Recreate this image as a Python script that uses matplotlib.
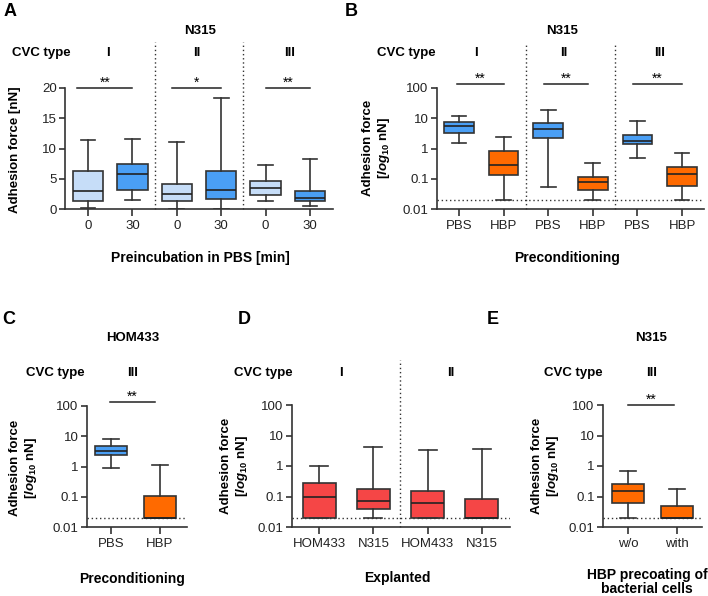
import matplotlib
matplotlib.use('Agg')
import matplotlib.pyplot as plt
from matplotlib.ticker import FixedLocator, NullLocator

plt.rcParams['font.family'] = ['Liberation Sans', 'DejaVu Sans']
plt.rcParams['mathtext.fontset'] = 'custom'
plt.rcParams['mathtext.rm'] = 'Liberation Sans:bold'
plt.rcParams['mathtext.it'] = 'Liberation Sans:bold:italic'
plt.rcParams['mathtext.bf'] = 'Liberation Sans:bold'

# colours
light_blue = '#c6ddf8'
blue = '#4a9ff5'
orange = '#ff6a00'
red = '#f54646'
dark = '#333333'

# panel A: N315, preincubation in PBS (linear nN)
a_labels = ['0', '30', '0', '30', '0', '30']
a_whislo = [0.1, 1.5, 0.0, 0.0, 1.3, 0.55]
a_q1 = [1.4, 3.2, 1.4, 1.6, 2.3, 1.4]
a_med = [2.9, 5.8, 2.4, 3.2, 3.4, 1.8]
a_q3 = [6.3, 7.4, 4.1, 6.3, 4.7, 2.9]
a_whishi = [11.4, 11.6, 11.0, 18.4, 7.3, 8.2]
a_colors = [light_blue, blue, light_blue, blue, light_blue, blue]

# panel B: N315, preconditioning (log nN)
b_labels = ['PBS', 'HBP', 'PBS', 'HBP', 'PBS', 'HBP']
b_whislo = [1.55, 0.02, 0.055, 0.02, 0.48, 0.02]
b_q1 = [3.3, 0.134, 2.25, 0.041, 1.38, 0.056]
b_med = [5.6, 0.29, 4.4, 0.076, 1.74, 0.148]
b_q3 = [7.3, 0.8, 6.9, 0.118, 2.9, 0.25]
b_whishi = [11.5, 2.4, 18.7, 0.32, 8.1, 0.70]
b_colors = [blue, orange, blue, orange, blue, orange]

# panel C: HOM433, preconditioning
c_labels = ['PBS', 'HBP']
c_whislo = [0.89, 0.02]
c_q1 = [2.4, 0.02]
c_med = [3.2, 0.02]
c_q3 = [4.8, 0.105]
c_whishi = [8.2, 1.1]
c_colors = [blue, orange]

# panel D: explanted
d_labels = ['HOM433', 'N315', 'HOM433', 'N315']
d_whislo = [0.02, 0.02, 0.02, 0.02]
d_q1 = [0.02, 0.039, 0.02, 0.02]
d_med = [0.097, 0.072, 0.063, 0.02]
d_q3 = [0.28, 0.17, 0.154, 0.08]
d_whishi = [1.0, 4.1, 3.3, 3.5]
d_colors = [red, red, red, red]

# panel E: HBP precoating of bacterial cells
e_labels = ['w/o', 'with']
e_whislo = [0.02, 0.02]
e_q1 = [0.060, 0.02]
e_med = [0.146, 0.02]
e_q3 = [0.26, 0.048]
e_whishi = [0.70, 0.18]
e_colors = [orange, orange]

W, H = 708, 596
fig = plt.figure(figsize=(W / 100, H / 100), dpi=100)


def px_axes(x0, y0, x1, y1):
    return fig.add_axes([x0 / W, 1 - y1 / H, (x1 - x0) / W, (y1 - y0) / H])


def ftext(x, y, s, **kw):
    kw.setdefault('ha', 'center')
    kw.setdefault('va', 'center')
    fig.text(x / W, 1 - y / H, s, **kw)


def boxes(ax, labels, lo, q1, med, q3, hi, colors, width, log):
    stats = [dict(med=m, q1=a, q3=b, whislo=l, whishi=h, fliers=[])
             for l, a, m, b, h in zip(lo, q1, med, q3, hi)]
    bp = ax.bxp(stats, positions=range(len(stats)), widths=width,
                patch_artist=True, showfliers=False, capwidths=0.33,
                boxprops=dict(lw=1.2, edgecolor=dark),
                medianprops=dict(color='#222222', lw=1.2),
                whiskerprops=dict(color=dark, lw=1.2),
                capprops=dict(color=dark, lw=1.2))
    for patch, c in zip(bp['boxes'], colors):
        patch.set_facecolor(c)
    for s in ['top', 'right']:
        ax.spines[s].set_visible(False)
    for s in ['left', 'bottom']:
        ax.spines[s].set_color(dark)
        ax.spines[s].set_linewidth(1.2)
    ax.set_xticks(range(len(labels)))
    ax.set_xticklabels(labels, fontsize=9.5, color='#222222')
    ax.tick_params(axis='x', length=5, width=1.2, color=dark, pad=3)
    ax.tick_params(axis='y', length=4, width=1.2, color=dark, pad=2,
                   labelsize=9.5, labelcolor='#222222')
    if log:
        ax.set_yscale('log')
        ax.set_ylim(0.01, 100)
        ax.yaxis.set_major_locator(FixedLocator([0.01, 0.1, 1, 10, 100]))
        ax.yaxis.set_minor_locator(NullLocator())
        ax.set_yticklabels(['0.01', '0.1', '1', '10', '100'])
        ax.axhline(0.02, ls=(0, (1, 2)), color=dark, lw=1)


def sig(ax, x0, x1, y, s):
    ax.plot([x0, x1], [y, y], color='#222222', lw=1.1, clip_on=False)
    ax.annotate(s, xy=((x0 + x1) / 2, y), xytext=(0, -1), textcoords='offset points',
                ha='center', va='bottom', fontsize=10, annotation_clip=False)


def vsep(ax, x, y0, y1):
    ax.plot([x, x], [y0, y1], ls=(0, (1, 2)), color=dark, lw=1, clip_on=False)


ylab_log = 'Adhesion force\n[$\\mathit{log}_{10}$ nN]'
lab_kw = dict(fontsize=9.5, fontweight='bold')
cvc_kw = dict(fontsize=9.5, fontweight='bold')
title_kw = dict(fontsize=9.5, fontweight='bold')
letter_kw = dict(fontsize=13, fontweight='bold')

# ---- A
axA = px_axes(65, 88, 333, 209)
boxes(axA, a_labels, a_whislo, a_q1, a_med, a_q3, a_whishi, a_colors, 0.68, False)
axA.set_xlim(-0.52, 5.52)
axA.set_ylim(0, 20)
axA.set_yticks([0, 5, 10, 15, 20])
vsep(axA, 1.5, 0, 27.6)
vsep(axA, 3.5, 0, 27.6)
sig(axA, -0.25, 1.0, 20, '**')
sig(axA, 1.9, 3.0, 20, '*')
sig(axA, 4.0, 5.0, 20, '**')
ftext(15, 150, 'Adhesion force [nN]', rotation=90, **lab_kw)
ftext(200, 258, 'Preincubation in PBS [min]', fontsize=10, fontweight='bold')
ftext(200, 31, 'N315', **title_kw)
ftext(41, 53, 'CVC type', **cvc_kw)
for x, s in zip([108, 197, 290], ['I', 'II', 'III']):
    ftext(x, 53, s, **cvc_kw)
ftext(10, 12, 'A', **letter_kw)

# ---- B
axB = px_axes(437, 88, 704, 209)
boxes(axB, b_labels, b_whislo, b_q1, b_med, b_q3, b_whishi, b_colors, 0.67, True)
axB.set_xlim(-0.49, 5.49)
vsep(axB, 1.5, 0.01, 3090)
vsep(axB, 3.5, 0.01, 3090)
sig(axB, -0.05, 1.0, 135, '**')
sig(axB, 1.9, 2.9, 135, '**')
sig(axB, 3.9, 5.0, 135, '**')
ftext(377, 148, ylab_log, rotation=90, linespacing=1.1, **lab_kw)
ftext(567, 258, 'Preconditioning', fontsize=10, fontweight='bold')
ftext(562, 31, 'N315', **title_kw)
ftext(406, 53, 'CVC type', **cvc_kw)
for x, s in zip([476, 564, 660], ['I', 'II', 'III']):
    ftext(x, 53, s, **cvc_kw)
ftext(351, 12, 'B', **letter_kw)

# ---- C
axC = px_axes(87, 406, 187, 527)
boxes(axC, c_labels, c_whislo, c_q1, c_med, c_q3, c_whishi, c_colors, 0.67, True)
axC.set_xlim(-0.49, 1.55)
sig(axC, -0.02, 0.9, 135, '**')
ftext(24, 468, ylab_log, rotation=90, linespacing=1.1, **lab_kw)
ftext(132, 579, 'Preconditioning', fontsize=10, fontweight='bold')
ftext(133, 338, 'HOM433', **title_kw)
ftext(55, 373, 'CVC type', **cvc_kw)
ftext(133, 373, 'III', **cvc_kw)
ftext(9, 319, 'C', **letter_kw)

# ---- D
axD = px_axes(292, 405, 510, 527)
boxes(axD, d_labels, d_whislo, d_q1, d_med, d_q3, d_whishi, d_colors, 0.61, True)
axD.set_xlim(-0.5, 3.52)
vsep(axD, 1.5, 0.01, 3090)
ftext(235, 466, ylab_log, rotation=90, linespacing=1.1, **lab_kw)
ftext(397, 578, 'Explanted', fontsize=10, fontweight='bold')
ftext(263, 373, 'CVC type', **cvc_kw)
ftext(341, 373, 'I', **cvc_kw)
ftext(451, 373, 'II', **cvc_kw)
ftext(244, 319, 'D', **letter_kw)

# ---- E
axE = px_axes(603, 405, 702, 527)
boxes(axE, e_labels, e_whislo, e_q1, e_med, e_q3, e_whishi, e_colors, 0.65, True)
axE.set_xlim(-0.51, 1.51)
sig(axE, 0.0, 0.94, 100, '**')
ftext(546, 466, ylab_log, rotation=90, linespacing=1.1, **lab_kw)
ftext(647, 582, 'HBP precoating of\nbacterial cells', linespacing=1.0,
      fontsize=10, fontweight='bold')
ftext(651, 338, 'N315', **title_kw)
ftext(573, 373, 'CVC type', **cvc_kw)
ftext(652, 373, 'III', **cvc_kw)
ftext(493, 319, 'E', **letter_kw)

fig.savefig('out.png', dpi=100)
